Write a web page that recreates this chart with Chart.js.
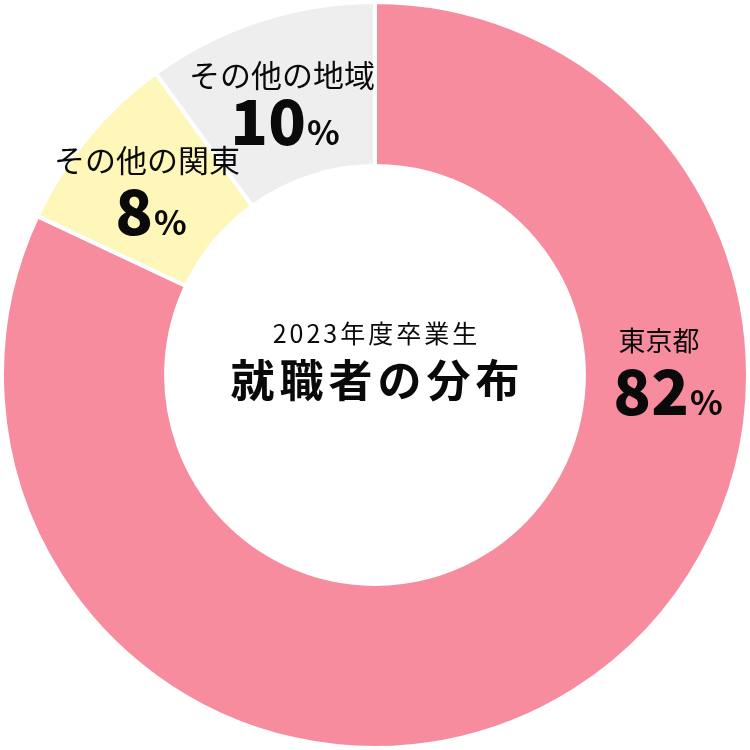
<!DOCTYPE html>
<html><head><meta charset="utf-8">
<script src="https://cdn.jsdelivr.net/npm/chart.js@4"></script>
<style>html,body{margin:0;padding:0;background:#fff;}canvas{display:block;}</style>
</head><body>
<canvas id="c" width="750" height="750"></canvas>
<script>
const categories = ["東京都", "その他の関東", "その他の地域"];
const values = [82, 8, 10];
const percentLabels = ["82", "8", "10"];
const colors = ["#F78C9F", "#FFF6B9", "#EEEEEE"];
const subTitle = "2023年度卒業生";
const mainTitle = "就職者の分布";

const FONT = '"Noto Sans CJK JP", "Noto Sans", sans-serif';
// label placement as offsets from chart centre (text layout only)
const labelPos = [
  {dx: 284, numDx: 293, nameY: -34, numY: 40},
  {dx: -228, numDx: -224, nameY: -215, numY: -140},
  {dx: -93, numDx: -90, nameY: -300, numY: -230}
];
const nameSizes = [27, 31, 31];

const textPlugin = {
  id: 'textPlugin',
  afterDraw(chart) {
    const ctx = chart.ctx;
    const meta = chart.getDatasetMeta(0);
    const arc = meta.data[0];
    const cx = arc.x, cy = arc.y;
    ctx.save();
    ctx.fillStyle = '#0a0a0a';
    // centre texts
    ctx.textAlign = 'center';
    ctx.textBaseline = 'middle';
    ctx.font = '400 25px ' + FONT;
    ctx.letterSpacing = '3px';
    ctx.fillText(subTitle, cx + 1.5, cy - 42);
    ctx.font = '700 44px ' + FONT;
    ctx.letterSpacing = '5px';
    ctx.fillText(mainTitle, cx + 2.5, cy + 5);
    ctx.letterSpacing = '0px';
    // segment labels
    categories.forEach((name, i) => {
      const p = labelPos[i];
      ctx.textAlign = 'center';
      ctx.textBaseline = 'middle';
      ctx.font = '400 ' + nameSizes[i] + 'px ' + FONT;
      ctx.fillText(name, cx + p.dx, cy + p.nameY);
      // number + %
      const x = cx + p.numDx;
      ctx.textBaseline = 'alphabetic';
      ctx.textAlign = 'left';
      ctx.font = '900 62px ' + FONT;
      const nw = ctx.measureText(percentLabels[i]).width;
      ctx.font = '700 34px ' + FONT;
      const pw = ctx.measureText('%').width;
      const gap = 1;
      const total = nw + gap + pw;
      let sx = x - total / 2;
      ctx.font = '900 62px ' + FONT;
      ctx.fillText(percentLabels[i], sx, cy + p.numY);
      ctx.font = '700 34px ' + FONT;
      ctx.fillText('%', sx + nw + gap, cy + p.numY);
    });
    ctx.restore();
  }
};

new Chart(document.getElementById('c'), {
  type: 'doughnut',
  data: {
    labels: categories,
    datasets: [{
      data: values,
      backgroundColor: colors,
      borderColor: '#ffffff',
      borderWidth: 4,
      hoverOffset: 0
    }]
  },
  options: {
    responsive: false,
    animation: false,
    cutout: '56%',
    layout: {padding: 0},
    plugins: {legend: {display: false}, tooltip: {enabled: false}}
  },
  plugins: [textPlugin]
});
</script>
</body></html>
